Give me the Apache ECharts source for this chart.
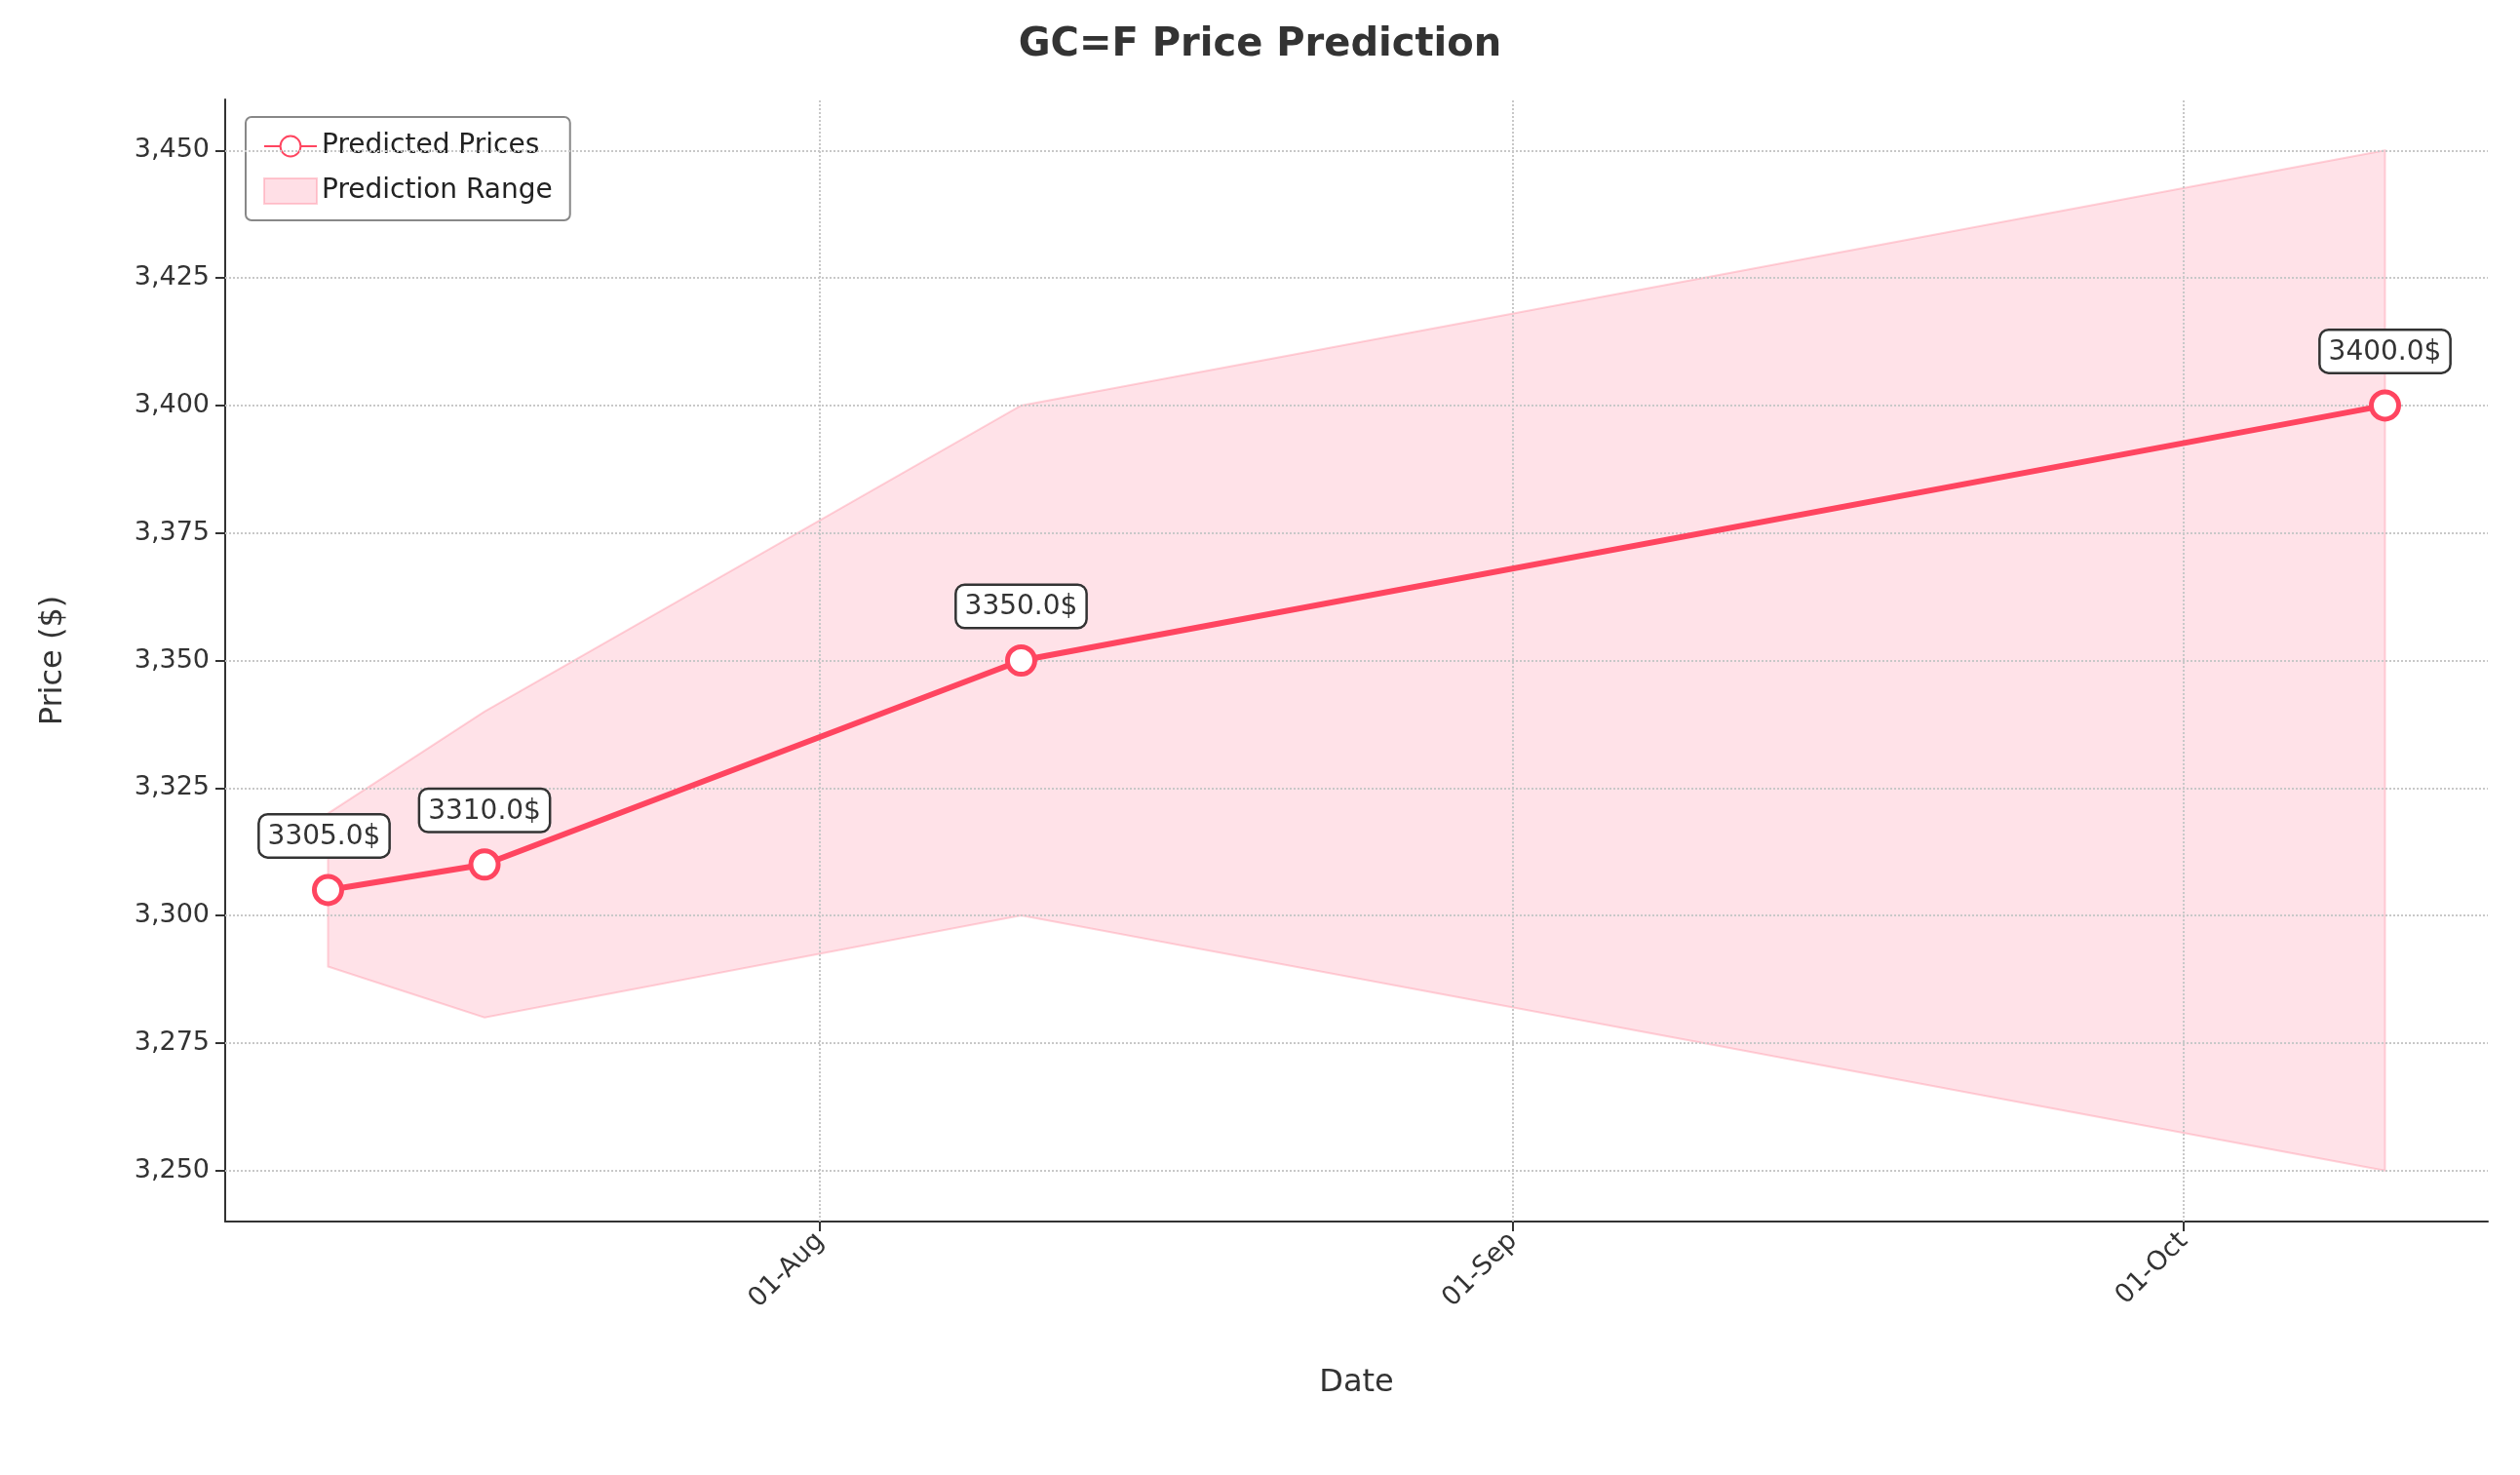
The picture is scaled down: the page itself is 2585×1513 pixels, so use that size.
<!DOCTYPE html>
<html><head><meta charset="utf-8">
<script src="https://cdn.jsdelivr.net/npm/echarts@6/dist/echarts.min.js"></script>
<style>html,body{margin:0;padding:0;background:#fff}#c{width:2585px;height:1513px}</style>
</head><body><div id="c"></div>
<script>
var dates = ['2025-07-10', '2025-07-17', '2025-08-10', '2025-10-10'];
var predicted = [3305, 3310, 3350, 3400];
var lower = [3290, 3280, 3300, 3250];
var upper = [3320, 3340, 3400, 3450];
var tickDates = ['2025-08-01', '2025-09-01', '2025-10-01'];
var yTicks = [3250, 3275, 3300, 3325, 3350, 3375, 3400, 3425, 3450];

function t(d) { return new Date(d + 'T00:00:00Z').getTime(); }
var xs = dates.map(t);
var span = xs[xs.length - 1] - xs[0];
var font = 'DejaVu Sans';
var mon = ['Jan','Feb','Mar','Apr','May','Jun','Jul','Aug','Sep','Oct','Nov','Dec'];
var gridStyle = { type: 'dotted', color: '#c8c8c8', width: 2 };

var chart = echarts.init(document.getElementById('c'));
chart.setOption({
	animation: false,
	textStyle: { fontFamily: font },
	title: { text: 'GC=F Price Prediction', left: 'center', top: 22,
		textStyle: { fontSize: 40, fontWeight: 'bold', color: '#333' } },
	grid: { left: 231, right: 33, top: 102, bottom: 260 },
	legend: {
		left: 252, top: 120, orient: 'vertical', itemGap: 18,
		borderColor: '#888', borderWidth: 2, borderRadius: 6, padding: [16, 18],
		itemWidth: 54, itemHeight: 26,
		textStyle: { fontSize: 28, color: '#222' },
		data: ['Predicted Prices', { name: 'Prediction Range', icon: 'rect',
			itemStyle: { color: 'rgba(255,110,140,0.22)', borderColor: 'rgba(255,130,150,0.4)', borderWidth: 2 } }]
	},
	xAxis: {
		type: 'value', min: xs[0] - span * 0.05, max: xs[xs.length - 1] + span * 0.05,
		name: 'Date', nameLocation: 'middle', nameGap: 150,
		nameTextStyle: { fontSize: 32, color: '#333' },
		axisLine: { lineStyle: { color: '#333', width: 2 } },
		axisTick: { customValues: tickDates.map(t), length: 10, lineStyle: { color: '#333', width: 2 } },
		axisLabel: { customValues: tickDates.map(t), rotate: 45, fontSize: 27, color: '#333', margin: 16,
			formatter: function (v) { var d = new Date(v); return ('0' + d.getUTCDate()).slice(-2) + '-' + mon[d.getUTCMonth()]; } },
		splitLine: { show: false }
	},
	yAxis: {
		type: 'value', min: 3240, max: 3460,
		name: 'Price ($)', nameLocation: 'middle', nameGap: 160,
		nameTextStyle: { fontSize: 32, color: '#333' },
		axisLine: { show: true, lineStyle: { color: '#333', width: 2 } },
		axisTick: { show: true, customValues: yTicks, length: 10, lineStyle: { color: '#333', width: 2 } },
		axisLabel: { customValues: yTicks, fontSize: 27, color: '#333', margin: 16 },
		splitLine: { show: false }
	},
	series: [
		{ name: 'Prediction Range', type: 'custom', z: 1,
			itemStyle: { color: 'rgba(255,110,140,0.22)' },
			renderItem: function (params, api) {
				if (params.dataIndex !== 0) return;
				var pts = [];
				for (var i = 0; i < xs.length; i++) pts.push(api.coord([xs[i], upper[i]]));
				for (var j = xs.length - 1; j >= 0; j--) pts.push(api.coord([xs[j], lower[j]]));
				return { type: 'polygon', shape: { points: pts },
					style: { fill: 'rgba(255,110,140,0.2)', stroke: 'rgba(255,130,150,0.35)', lineWidth: 2 } };
			},
			data: xs.map(function (x, i) { return [x, lower[i], upper[i]]; }),
			markLine: { silent: true, symbol: 'none', label: { show: false }, lineStyle: gridStyle,
				data: yTicks.map(function (v) { return { yAxis: v }; })
					.concat(tickDates.map(function (d) { return { xAxis: t(d) }; })) }
		},
		{ name: 'Predicted Prices', type: 'line', symbol: 'circle', symbolSize: 28,
			lineStyle: { color: '#ff4560', width: 6 },
			itemStyle: { color: '#fff', borderColor: '#ff4560', borderWidth: 5 },
			label: { show: true, position: 'top', distance: 18, fontSize: 28, color: '#333',
				backgroundColor: '#fff', borderColor: '#333', borderWidth: 2.5, borderRadius: 8,
				padding: [8, 8, 6, 8], formatter: function (p) { return p.value[1].toFixed(1) + '$'; } },
			data: xs.map(function (x, i) {
				var d = { value: [x, predicted[i]] };
				if (i === 0) d.label = { offset: [-4, 0] };
				return d;
			}), z: 5 }
	]
});
</script></body></html>
